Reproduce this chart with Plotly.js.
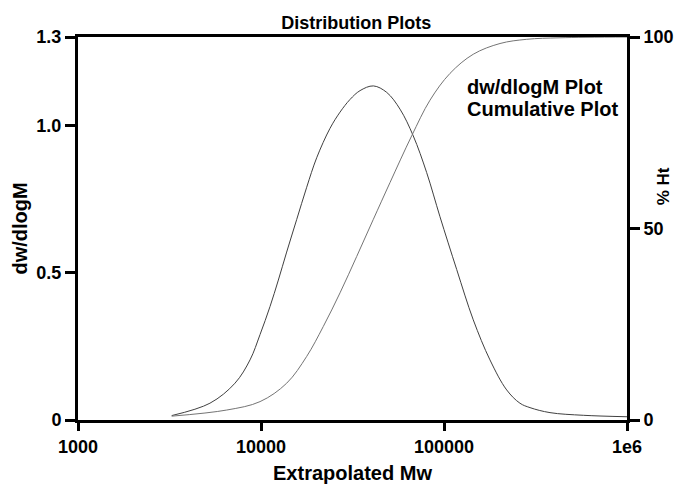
<!DOCTYPE html>
<html>
<head>
<meta charset="utf-8">
<script src="https://cdn.plot.ly/plotly-3.0.1.min.js"></script>
<style>
  html, body { margin: 0; padding: 0; background: #ffffff; }
  #chart { width: 675px; height: 484px; }
</style>
</head>
<body>
<div id="chart"></div>
<script>
// Molecular weight distribution: differential (dw/dlogM) and cumulative (% Ht)
const dwMw = [3251, 5260, 7210, 8710, 9880, 11200, 12440, 13810, 15660, 17770, 20150, 23830, 27030, 30650, 34770, 41110, 48640, 57510, 67960, 80390, 95070, 117300, 144500, 178300, 220100, 260000, 295200, 379500, 577000, 1000000];
const dwVal = [0.015, 0.057, 0.125, 0.204, 0.290, 0.385, 0.475, 0.570, 0.680, 0.790, 0.890, 0.990, 1.045, 1.088, 1.118, 1.134, 1.112, 1.055, 0.964, 0.840, 0.690, 0.511, 0.340, 0.204, 0.102, 0.057, 0.042, 0.025, 0.016, 0.011];

const cumMw = [3251, 6495, 9880, 13810, 17770, 21890, 27030, 33340, 41110, 50700, 66600, 83840, 107840, 144500, 202300, 283300, 430500, 1000000];
const cumPct = [1.0, 2.6, 4.8, 9.6, 16.6, 24.4, 33.2, 42.7, 52.4, 62.0, 74.2, 83.5, 90.5, 95.5, 98.3, 99.4, 99.8, 100];

const xTickVals = [1000, 10000, 100000, 1000000];
const xTickText = ['1000', '10000', '100000', '1e6'];
const yTickVals = [0, 0.5, 1.0, 1.3];
const yTickText = ['0', '0.5', '1.0', '1.3'];
const y2TickVals = [0, 50, 100];
const y2TickText = ['0', '50', '100'];

const legendLabels = ['dw/dlogM Plot', 'Cumulative Plot'];

const FONT = 'Liberation Sans, Arial, sans-serif';
const boldFont = (size) => ({ family: FONT, size: size, color: '#000000', weight: 'bold' });

const traces = [
  {
    x: dwMw, y: dwVal, type: 'scatter', mode: 'lines',
    line: { color: '#404040', width: 1, shape: 'spline', smoothing: 1 },
    xaxis: 'x', yaxis: 'y', hoverinfo: 'skip', showlegend: false
  },
  {
    x: cumMw, y: cumPct, type: 'scatter', mode: 'lines',
    line: { color: '#747474', width: 1, shape: 'spline', smoothing: 1 },
    xaxis: 'x', yaxis: 'y2', hoverinfo: 'skip', showlegend: false
  }
];

const layout = {
  width: 675,
  height: 484,
  margin: { l: 78, r: 48, t: 37, b: 64 },
  paper_bgcolor: '#ffffff',
  plot_bgcolor: '#ffffff',
  showlegend: false,
  title: {
    text: 'Distribution Plots',
    font: boldFont(18),
    x: 0.507, xref: 'paper',
    y: 0.966, yref: 'container', yanchor: 'top'
  },
  xaxis: {
    type: 'log',
    range: [3, 6],
    tickvals: xTickVals,
    ticktext: xTickText,
    ticks: 'outside', ticklen: 8, tickwidth: 3, tickcolor: '#000000',
    showline: true, linecolor: '#000000', linewidth: 3, mirror: true,
    showgrid: false, zeroline: false,
    tickfont: boldFont(18),
    title: { text: 'Extrapolated Mw', font: boldFont(20), standoff: 12 }
  },
  yaxis: {
    range: [0, 1.3],
    tickvals: yTickVals,
    ticktext: yTickText,
    ticks: 'outside', ticklen: 10, tickwidth: 3, tickcolor: '#000000',
    showline: true, linecolor: '#000000', linewidth: 3,
    showgrid: false, zeroline: false,
    tickfont: boldFont(18),
    title: { text: 'dw/dlogM', font: boldFont(20), standoff: 4 }
  },
  yaxis2: {
    overlaying: 'y',
    side: 'right',
    range: [0, 100],
    tickvals: y2TickVals,
    ticktext: y2TickText,
    ticks: 'outside', ticklen: 10, tickwidth: 3, tickcolor: '#000000',
    showline: true, linecolor: '#000000', linewidth: 3,
    showgrid: false, zeroline: false,
    tickfont: boldFont(18)
  },
  annotations: [
    {
      text: '% Ht', textangle: -90,
      xref: 'paper', yref: 'paper', x: 1.0, y: 0.61,
      xanchor: 'center', yanchor: 'middle', xshift: 36,
      showarrow: false, font: boldFont(17)
    },
    {
      text: legendLabels[0],
      xref: 'paper', yref: 'paper', x: 0.705, y: 0.869,
      xanchor: 'left', yanchor: 'middle',
      showarrow: false, font: boldFont(20)
    },
    {
      text: legendLabels[1],
      xref: 'paper', yref: 'paper', x: 0.705, y: 0.812,
      xanchor: 'left', yanchor: 'middle',
      showarrow: false, font: boldFont(20)
    }
  ]
};

Plotly.newPlot('chart', traces, layout, { displayModeBar: false, staticPlot: true });
</script>
</body>
</html>
